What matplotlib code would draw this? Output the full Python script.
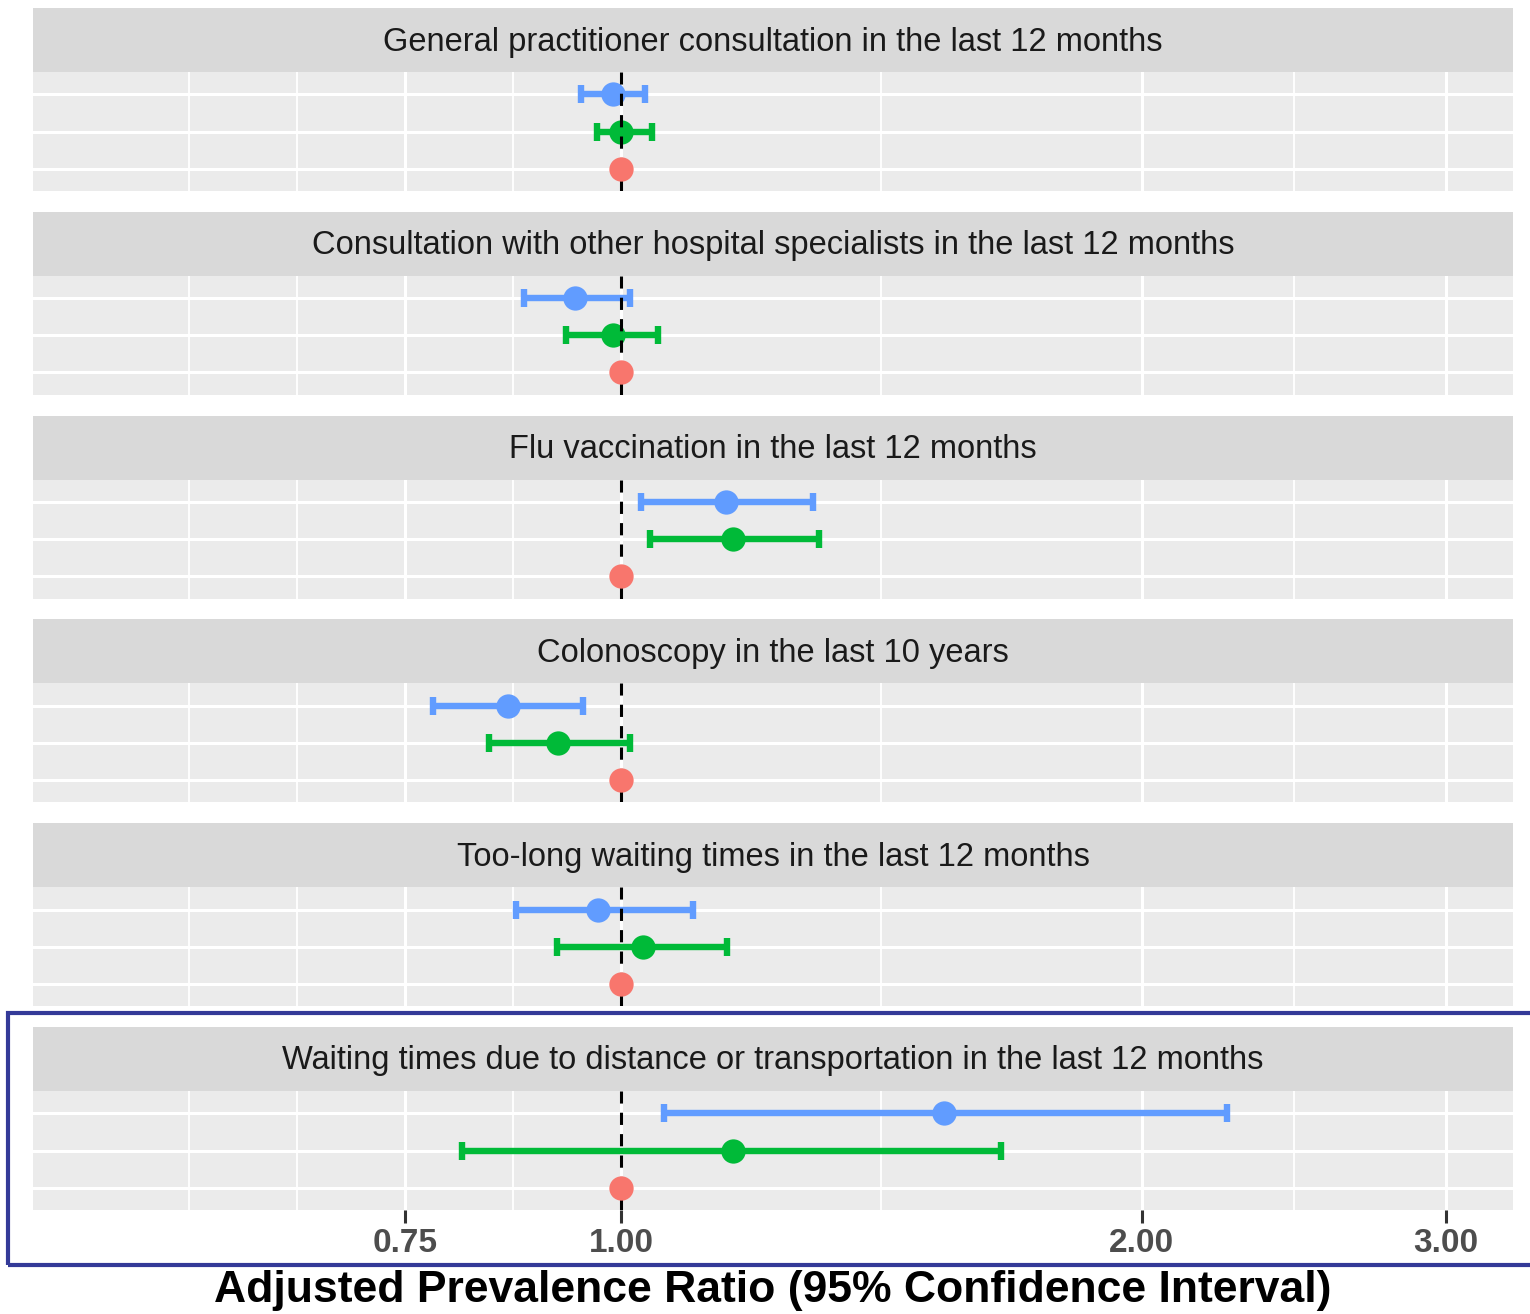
import numpy as np
import matplotlib
matplotlib.use("Agg")
import matplotlib.pyplot as plt
from matplotlib.patches import Rectangle

plt.rcParams['font.family'] = ['Liberation Sans', 'DejaVu Sans']

# facet titles (top to bottom)
outcomes = [
    "General practitioner consultation in the last 12 months",
    "Consultation with other hospital specialists in the last 12 months",
    "Flu vaccination in the last 12 months",
    "Colonoscopy in the last 10 years",
    "Too-long waiting times in the last 12 months",
    "Waiting times due to distance or transportation in the last 12 months",
]

# adjusted prevalence ratios with 95% CI
blue_est = [0.989, 0.941, 1.150, 0.860, 0.970, 1.537]
blue_lo = [0.948, 0.879, 1.027, 0.779, 0.870, 1.059]
blue_hi = [1.032, 1.012, 1.291, 0.951, 1.101, 2.241]

green_est = [1.000, 0.989, 1.161, 0.920, 1.030, 1.161]
green_lo = [0.969, 0.929, 1.039, 0.839, 0.918, 0.809]
green_hi = [1.042, 1.050, 1.302, 1.012, 1.152, 1.659]

red_est = [1.0, 1.0, 1.0, 1.0, 1.0, 1.0]

x_breaks = [0.75, 1.0, 2.0, 3.0]
x_labels = ["0.75", "1.00", "2.00", "3.00"]
x_minor = [0.5625, 0.6495, 0.866, 1.414, 2.449]

RED, GREEN, BLUE = "#F8766D", "#00BA38", "#619CFF"

W, H = 1530, 1314
fig = plt.figure(figsize=(W / 100, H / 100), dpi=100)

left, right = 33, 1513
strip_h, panel_h, pitch, top0 = 64, 119, 203.8, 8

for i, title in enumerate(outcomes):
    s_top = top0 + i * pitch
    p_top = s_top + strip_h
    # strip
    fig.patches.append(Rectangle((left / W, 1 - p_top / H), (right - left) / W, strip_h / H,
                                 transform=fig.transFigure, facecolor="#D9D9D9",
                                 edgecolor="none"))
    fig.text((left + right) / 2 / W, 1 - (s_top + strip_h / 2 + 2) / H, title,
             ha="center", va="center", fontsize=23.5, color="#1A1A1A")

    ax = fig.add_axes([left / W, 1 - (p_top + panel_h) / H, (right - left) / W, panel_h / H])
    ax.set_facecolor("#EBEBEB")
    for sp in ax.spines.values():
        sp.set_visible(False)
    ax.set_xscale("log")
    ax.set_xlim(0.457, 3.28)
    ax.set_ylim(0.4, 3.6)
    ax.set_xticks(x_breaks)
    ax.set_xticks(x_minor, minor=True)
    ax.set_yticks([1, 2, 3])
    ax.set_yticklabels([])
    ax.tick_params(axis="y", length=0)
    ax.tick_params(axis="x", which="minor", length=0, labelbottom=False)
    ax.grid(True, which="major", color="white", linewidth=2.2)
    ax.grid(True, which="minor", axis="x", color="white", linewidth=1.3)
    ax.set_axisbelow(True)

    if i == len(outcomes) - 1:
        ax.set_xticklabels(x_labels)
        ax.tick_params(axis="x", which="major", length=9, width=2.2, color="#333333",
                       pad=4, labelsize=24, labelcolor="#4D4D4D")
        for lab in ax.get_xticklabels():
            lab.set_fontweight("bold")
        ax.set_xlabel("Adjusted Prevalence Ratio (95% Confidence Interval)",
                      fontsize=32, fontweight="bold", color="black", labelpad=8)
    else:
        ax.set_xticklabels([])
        ax.tick_params(axis="x", which="major", length=0)

    for est, lo, hi, yy, col in [(blue_est[i], blue_lo[i], blue_hi[i], 3, BLUE),
                                 (green_est[i], green_lo[i], green_hi[i], 2, GREEN)]:
        ax.errorbar(est, yy, xerr=[[est - lo], [hi - est]], fmt="none", ecolor=col,
                    elinewidth=4.6, capsize=6.5, capthick=4.6, zorder=3)
        ax.plot(est, yy, "o", color=col, markersize=17.5, markeredgewidth=0, zorder=4)
    ax.axvline(1.0, color="black", linewidth=2.2, linestyle=(0, (4, 3)), zorder=5)
    ax.plot(red_est[i], 1, "o", color=RED, markersize=17.5, markeredgewidth=0, zorder=6)

# highlight box around the last facet
fig.patches.append(Rectangle((8 / W, 1 - 1265 / H), 1535 / W, (1265 - 1013) / H,
                             transform=fig.transFigure, facecolor="none",
                             edgecolor="#343A98", linewidth=3))

fig.savefig("out.png", dpi=100)
